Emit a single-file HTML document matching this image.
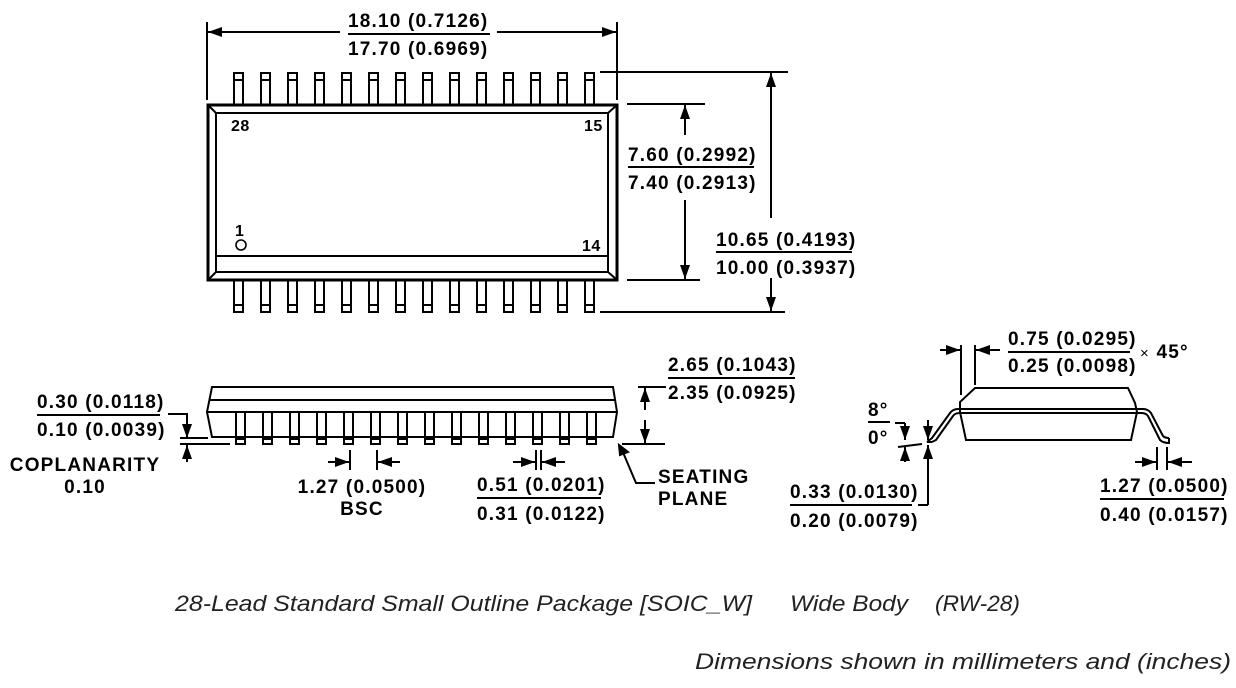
<!DOCTYPE html>
<html><head><meta charset="utf-8"><style>
html,body{margin:0;padding:0;background:#fff}
svg{display:block}
.t{font-family:"Liberation Sans",sans-serif;font-weight:bold;font-size:19px;letter-spacing:1.2px;fill:#000}
.c{font-family:"Liberation Sans",sans-serif;font-style:italic;font-size:22px;fill:#222}
</style></head><body>
<svg width="1236" height="688" viewBox="0 0 1236 688" xmlns="http://www.w3.org/2000/svg">
<defs>
<marker id="a" viewBox="0 0 14 10" refX="14" refY="5" markerWidth="14" markerHeight="10" markerUnits="userSpaceOnUse" orient="auto"><path d="M0,0L14,5L0,10z" fill="#000"/></marker>
</defs>
<g stroke="#000" fill="none" stroke-width="2">
<rect x="208" y="105" width="409" height="175" stroke-width="3"/>
<rect x="216" y="113" width="392" height="159"/>
<line x1="208" y1="105" x2="216" y2="113"/><line x1="617" y1="105" x2="608" y2="113"/>
<line x1="208" y1="280" x2="216" y2="272"/><line x1="617" y1="280" x2="608" y2="272"/>
<line x1="216" y1="256" x2="608" y2="256"/>
<circle cx="241" cy="245" r="5" stroke-width="1.6"/>
<g id="tp">
<rect x="234" y="73" width="9" height="32"/><line x1="234" y1="80" x2="243" y2="80"/>
<rect x="234" y="280" width="9" height="32"/><line x1="234" y1="305" x2="243" y2="305"/>
</g>
<use href="#tp" x="27"/><use href="#tp" x="54"/><use href="#tp" x="81"/><use href="#tp" x="108"/><use href="#tp" x="135"/><use href="#tp" x="162"/><use href="#tp" x="189"/><use href="#tp" x="216"/><use href="#tp" x="243"/><use href="#tp" x="270"/><use href="#tp" x="297"/><use href="#tp" x="324"/><use href="#tp" x="351"/>
<line x1="207" y1="22" x2="207" y2="100"/><line x1="617" y1="22" x2="617" y2="100"/>
<line x1="340" y1="32" x2="208" y2="32" marker-end="url(#a)"/>
<line x1="497" y1="32" x2="616" y2="32" marker-end="url(#a)"/>
<line x1="348" y1="34" x2="490" y2="34"/>
<line x1="627" y1="104" x2="705" y2="104"/><line x1="627" y1="280" x2="700" y2="280"/>
<line x1="685" y1="135" x2="685" y2="105" marker-end="url(#a)"/>
<line x1="685" y1="200" x2="685" y2="279" marker-end="url(#a)"/>
<line x1="628" y1="167" x2="754" y2="167"/>
<line x1="600" y1="72" x2="788" y2="72"/><line x1="600" y1="312" x2="785" y2="312"/>
<line x1="771" y1="218" x2="771" y2="73" marker-end="url(#a)"/>
<line x1="771" y1="278" x2="771" y2="311" marker-end="url(#a)"/>
<line x1="716" y1="252" x2="852" y2="252"/>
<path d="M212,387 L613,387 L617,412 L613,437 L212,437 L207,412 Z"/>
<line x1="210" y1="400" x2="615" y2="400"/>
<line x1="207" y1="412" x2="617" y2="412"/>
<g id="sp"><rect x="236" y="412" width="9" height="32"/><line x1="236" y1="439" x2="245" y2="439"/></g>
<use href="#sp" x="27"/><use href="#sp" x="54"/><use href="#sp" x="81"/><use href="#sp" x="108"/><use href="#sp" x="135"/><use href="#sp" x="162"/><use href="#sp" x="189"/><use href="#sp" x="216"/><use href="#sp" x="243"/><use href="#sp" x="270"/><use href="#sp" x="297"/><use href="#sp" x="324"/><use href="#sp" x="351"/>
<line x1="638" y1="387" x2="666" y2="387"/><line x1="622" y1="444" x2="665" y2="444"/>
<line x1="645" y1="410" x2="645" y2="388" marker-end="url(#a)"/>
<line x1="645" y1="420" x2="645" y2="443" marker-end="url(#a)"/>
<line x1="668" y1="378" x2="795" y2="378"/>
<line x1="37" y1="415" x2="160" y2="415"/>
<line x1="168" y1="414" x2="188" y2="414"/>
<line x1="187" y1="414" x2="187" y2="438" marker-end="url(#a)"/>
<line x1="180" y1="438" x2="208" y2="438"/>
<line x1="180" y1="444" x2="230" y2="444"/>
<line x1="187" y1="462" x2="187" y2="445" marker-end="url(#a)"/>
<line x1="350" y1="450" x2="350" y2="470"/><line x1="377" y1="450" x2="377" y2="470"/>
<line x1="328" y1="462" x2="349" y2="462" marker-end="url(#a)"/>
<line x1="400" y1="462" x2="378" y2="462" marker-end="url(#a)"/>
<line x1="536" y1="450" x2="536" y2="470"/><line x1="541" y1="450" x2="541" y2="470"/>
<line x1="513" y1="462" x2="535" y2="462" marker-end="url(#a)"/>
<line x1="565" y1="462" x2="542" y2="462" marker-end="url(#a)"/>
<line x1="477" y1="498" x2="601" y2="498"/>
<polyline points="655,483 636,483 622,450"/>
<path d="M619,445 L628,452 L620,455 Z" fill="#000"/>
<path d="M975,388 L1128,388 L1135,403 L1137,412 L1131,440 L966,440 L960,412 L960,402 Z"/>
<path d="M927,442 L932,438 L950,413 Q953,409 958,409 L1143,409 Q1148,409 1151,413 L1163,436 Q1165,438 1169,438" />
<path d="M932,442 L936,440 L953,416 Q955,413 960,413 L1141,413 Q1146,413 1148,416 L1160,440 Q1163,443 1169,443 L1169,438" />
<line x1="927" y1="442" x2="932" y2="442"/>
<line x1="961" y1="345" x2="961" y2="395"/><line x1="975" y1="345" x2="975" y2="385"/>
<line x1="940" y1="350" x2="960" y2="350" marker-end="url(#a)"/>
<line x1="1000" y1="350" x2="976" y2="350" marker-end="url(#a)"/>
<line x1="1008" y1="352" x2="1130" y2="352"/>
<line x1="868" y1="422" x2="890" y2="422"/>
<line x1="895" y1="423" x2="905" y2="423"/>
<line x1="905" y1="423" x2="905" y2="440" marker-end="url(#a)"/>
<line x1="898" y1="447" x2="922" y2="444"/>
<line x1="905" y1="462" x2="905" y2="447" marker-end="url(#a)"/>
<line x1="928" y1="420" x2="928" y2="440" marker-end="url(#a)"/>
<line x1="928" y1="505" x2="928" y2="445" marker-end="url(#a)"/>
<line x1="918" y1="505" x2="928" y2="505"/>
<line x1="790" y1="505" x2="912" y2="505"/>
<line x1="1157" y1="447" x2="1157" y2="470"/><line x1="1167" y1="447" x2="1167" y2="470"/>
<line x1="1135" y1="462" x2="1156" y2="462" marker-end="url(#a)"/>
<line x1="1192" y1="462" x2="1168" y2="462" marker-end="url(#a)"/>
<line x1="1100" y1="499" x2="1224" y2="499"/>
</g>
<g class="t">
<text x="231" y="131" font-size="16" letter-spacing="0.5">28</text>
<text x="584" y="131" font-size="16" letter-spacing="0.5">15</text>
<text x="235" y="236" font-size="16">1</text>
<text x="582" y="251" font-size="16" letter-spacing="0.5">14</text>
<text x="348" y="27">18.10 (0.7126)</text>
<text x="348" y="55">17.70 (0.6969)</text>
<text x="628" y="161">7.60 (0.2992)</text>
<text x="628" y="189">7.40 (0.2913)</text>
<text x="716" y="246">10.65 (0.4193)</text>
<text x="716" y="274">10.00 (0.3937)</text>
<text x="668" y="371">2.65 (0.1043)</text>
<text x="668" y="399">2.35 (0.0925)</text>
<text x="37" y="408">0.30 (0.0118)</text>
<text x="37" y="436">0.10 (0.0039)</text>
<text x="85" y="471" text-anchor="middle">COPLANARITY</text>
<text x="85" y="493" text-anchor="middle">0.10</text>
<text x="362" y="493" text-anchor="middle">1.27 (0.0500)</text>
<text x="362" y="515" text-anchor="middle">BSC</text>
<text x="477" y="491">0.51 (0.0201)</text>
<text x="477" y="520">0.31 (0.0122)</text>
<text x="658" y="483">SEATING</text>
<text x="658" y="505">PLANE</text>
<text x="1008" y="345">0.75 (0.0295)</text>
<text x="1008" y="372">0.25 (0.0098)</text>
<text x="1140" y="358"><tspan font-weight="normal" font-size="15">×</tspan> 45°</text>
<text x="868" y="416">8°</text>
<text x="868" y="444">0°</text>
<text x="790" y="498">0.33 (0.0130)</text>
<text x="790" y="527">0.20 (0.0079)</text>
<text x="1100" y="492">1.27 (0.0500)</text>
<text x="1100" y="521">0.40 (0.0157)</text>
</g>
<g class="c">
<text x="175" y="611" textLength="577" lengthAdjust="spacingAndGlyphs">28-Lead Standard Small Outline Package [SOIC_W]</text>
<text x="790" y="611" textLength="118" lengthAdjust="spacingAndGlyphs">Wide Body</text>
<text x="935" y="611" textLength="85" lengthAdjust="spacingAndGlyphs">(RW-28)</text>
<text x="695" y="669" textLength="536" lengthAdjust="spacingAndGlyphs">Dimensions shown in millimeters  and (inches)</text>
</g>
</svg>
</body></html>
